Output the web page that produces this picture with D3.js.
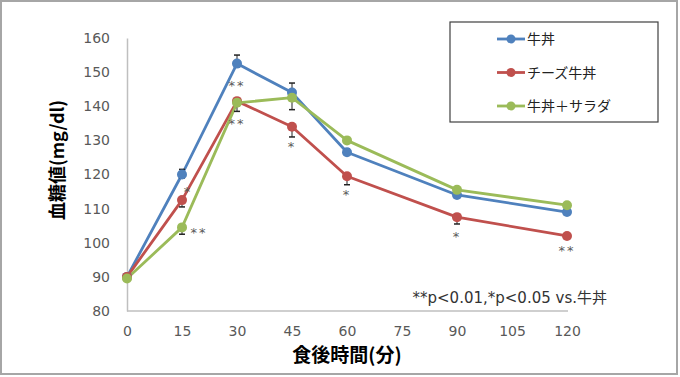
<!DOCTYPE html>
<html>
<head>
<meta charset="utf-8">
<script src="https://cdn.jsdelivr.net/npm/d3@7"></script>
<style>
  body { margin: 0; background: #fff; }
  text { font-family: "Noto Sans CJK JP", "DejaVu Sans", sans-serif; }
</style>
</head>
<body>
<svg id="chart" width="680" height="377"></svg>
<script>
// Data
const times = [0, 15, 30, 45, 60, 90, 120];
const xTicks = [0, 15, 30, 45, 60, 75, 90, 105, 120];
const yTicks = [80, 90, 100, 110, 120, 130, 140, 150, 160];

const seriesNames = ["牛丼", "チーズ牛丼", "牛丼＋サラダ"];
const gyudon = [90, 120, 152.5, 144, 126.5, 114, 109];
const cheese = [90, 112.5, 141.5, 134, 119.5, 107.5, 102];
const salad = [89.5, 104.5, 141, 142.5, 130, 115.5, 111];

// error bars: [upper, lower]
const gyudonErr = [[0, 0], [1.5, 1], [2.5, 0], [2.8, 0], [1, 0], [0.8, 0], [0, 0]];
const cheeseErr = [[0, 0], [0, 2], [0, 3], [0, 3], [0, 2.5], [0, 2], [0, 0]];
const saladErr = [[0, 0.5], [0, 2], [0, 0], [0, 3.5], [0, 0], [0, 0], [0, 0]];

// significance marks: time, value at the mark's centre, text
const sigMarks = [
  { t: 15, v: 116, dx: 6, label: "*" },
  { t: 15, v: 104, dx: 17, label: "**" },
  { t: 30, v: 147.1, dx: 0, label: "**" },
  { t: 30, v: 136, dx: 0, label: "**" },
  { t: 45, v: 129.2, dx: 0, label: "*" },
  { t: 60, v: 115.2, dx: 0, label: "*" },
  { t: 90, v: 102.9, dx: 0, label: "*" },
  { t: 120, v: 98.8, dx: 0, label: "**" }
];

const colors = ["#4F81BD", "#C0504D", "#9BBB59"];
const allSeries = [
  { name: seriesNames[0], values: gyudon, err: gyudonErr, color: colors[0] },
  { name: seriesNames[1], values: cheese, err: cheeseErr, color: colors[1] },
  { name: seriesNames[2], values: salad, err: saladErr, color: colors[2] }
];

const svg = d3.select("#chart");

// Outer frame
svg.append("rect")
  .attr("x", 1).attr("y", 1)
  .attr("width", 676).attr("height", 373)
  .attr("fill", "none")
  .attr("stroke", "#a6a6a6")
  .attr("stroke-width", 2);

const x = d3.scaleLinear().domain([0, 120]).range([127, 567]);
const y = d3.scaleLinear().domain([80, 160]).range([311, 38]);

// Axes
const xAxis = svg.append("g")
  .attr("transform", `translate(0, ${y(80)})`)
  .call(d3.axisBottom(x).tickValues(xTicks).tickSize(0).tickPadding(15));
const yAxis = svg.append("g")
  .attr("transform", `translate(${x(0)}, 0)`)
  .call(d3.axisLeft(y).tickValues(yTicks).tickSize(0).tickPadding(17));

[xAxis, yAxis].forEach(axis => {
  axis.select(".domain").attr("stroke", "#bfbfbf").attr("stroke-width", 1.5);
  axis.selectAll("text")
    .attr("fill", "#595959")
    .style("font-family", "'DejaVu Sans', sans-serif")
    .style("font-size", "14px");
});
xAxis.select(".domain").attr("d", `M${x(0)},0H${x(120) + 1}`);

// Axis titles
svg.append("text")
  .attr("x", 347).attr("y", 362)
  .attr("text-anchor", "middle")
  .attr("font-size", 19).attr("font-weight", "bold")
  .attr("fill", "#000")
  .text("食後時間(分)");

svg.append("text")
  .attr("transform", `translate(64, 160) rotate(-90)`)
  .attr("text-anchor", "middle")
  .attr("font-size", 18).attr("font-weight", "bold")
  .attr("fill", "#000")
  .text("血糖値(mg/dl)");

// Lines
const line = d3.line()
  .x((d, i) => x(times[i]))
  .y(d => y(d));

allSeries.forEach(s => {
  svg.append("path")
    .datum(s.values)
    .attr("d", line)
    .attr("fill", "none")
    .attr("stroke", s.color)
    .attr("stroke-width", 2.8)
    .attr("stroke-linejoin", "round");
});

// Error bars
allSeries.forEach(s => {
  s.err.forEach((e, i) => {
    const cx = x(times[i]);
    const v = s.values[i];
    [[v + e[0], e[0]], [v - e[1], e[1]]].forEach(([end, size]) => {
      if (size <= 0) return;
      svg.append("line")
        .attr("x1", cx).attr("x2", cx)
        .attr("y1", y(v)).attr("y2", y(end))
        .attr("stroke", "#222").attr("stroke-width", 1);
      svg.append("line")
        .attr("x1", cx - 3).attr("x2", cx + 3)
        .attr("y1", y(end)).attr("y2", y(end))
        .attr("stroke", "#222").attr("stroke-width", 1.5);
    });
  });
});

// Markers
allSeries.forEach(s => {
  svg.append("g").selectAll("circle")
    .data(s.values)
    .join("circle")
    .attr("cx", (d, i) => x(times[i]))
    .attr("cy", d => y(d))
    .attr("r", 5)
    .attr("fill", s.color);
});

// Significance marks
svg.append("g").selectAll("text")
  .data(sigMarks)
  .join("text")
  .attr("x", d => x(d.t) + d.dx)
  .attr("y", d => y(d.v))
  .attr("dy", 8)
  .attr("text-anchor", "middle")
  .attr("font-size", 13)
  .attr("letter-spacing", 2)
  .attr("fill", "#595959")
  .style("font-family", "'DejaVu Sans', sans-serif")
  .text(d => d.label);

// Note
svg.append("text")
  .attr("x", 607).attr("y", 303)
  .attr("text-anchor", "end")
  .attr("font-size", 15)
  .attr("fill", "#333")
  .style("font-family", "'DejaVu Sans', 'Noto Sans CJK JP', sans-serif")
  .text("**p<0.01,*p<0.05 vs.牛丼");

// Legend
svg.append("rect")
  .attr("x", 450).attr("y", 22)
  .attr("width", 208).attr("height", 100)
  .attr("fill", "#fff")
  .attr("stroke", "#404040")
  .attr("stroke-width", 1.2);

const legend = svg.append("g").selectAll("g")
  .data(allSeries)
  .join("g")
  .attr("transform", (d, i) => `translate(0, ${39 + i * 33.5})`);

legend.append("line")
  .attr("x1", 497).attr("x2", 525)
  .attr("y1", 0).attr("y2", 0)
  .attr("stroke", d => d.color)
  .attr("stroke-width", 2.8);
legend.append("circle")
  .attr("cx", 511).attr("cy", 0).attr("r", 4.5)
  .attr("fill", d => d.color);
legend.append("text")
  .attr("x", 527).attr("y", 5)
  .attr("font-size", 14)
  .attr("fill", "#222")
  .text(d => d.name);
</script>
</body>
</html>
